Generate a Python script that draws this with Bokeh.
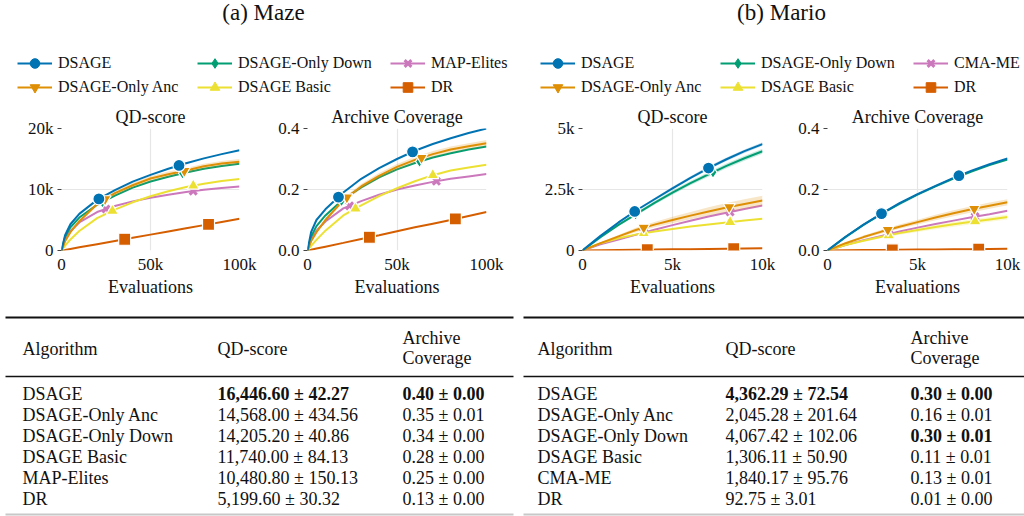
import numpy as np
from bokeh.plotting import figure
from bokeh.models import Range1d, FixedTicker, Legend, LegendItem
from bokeh.layouts import column, row
from bokeh.embed import file_html
from bokeh.resources import INLINE
from bokeh.core.properties import value

FONT = "Liberation Serif"

# ---------------- data ----------------
panel_titles = ["(a) Maze", "(b) Mario"]
names_maze = ["DSAGE", "DSAGE-Only Anc", "DSAGE-Only Down", "DSAGE Basic", "MAP-Elites", "DR"]
names_mario = ["DSAGE", "DSAGE-Only Anc", "DSAGE-Only Down", "DSAGE Basic", "CMA-ME", "DR"]
colors = ["#0173b2", "#de8f05", "#029e73", "#ece133", "#cc78bc", "#d55e00"]
markers = ["circle", "inverted_triangle", "diamond", "triangle", "x", "square"]

maze_evals = [0, 2000, 5000, 10000, 20000, 30000, 40000, 50000, 60000, 70000, 80000, 90000, 100000]
maze_qd = [
    [0, 2500, 4300, 6000, 8300, 9900, 11300, 12400, 13400, 14300, 15100, 15800, 16447],
    [0, 1500, 3000, 4800, 7600, 9400, 10700, 11800, 12500, 13100, 13800, 14250, 14568],
    [0, 2200, 3800, 5400, 7500, 9000, 10300, 11300, 12100, 12800, 13400, 13850, 14205],
    [0, 800, 1800, 3200, 5300, 6700, 7900, 8900, 9700, 10400, 10950, 11380, 11740],
    [0, 1800, 3200, 4600, 6300, 7300, 8050, 8650, 9150, 9600, 9950, 10250, 10481],
    [0, 100, 260, 520, 1040, 1560, 2080, 2600, 3120, 3640, 4160, 4680, 5200],
]
maze_cov = [
    [0, .06, .10, .135, .19, .235, .27, .30, .327, .349, .368, .385, .40],
    [0, .03, .06, .10, .165, .21, .245, .274, .297, .316, .331, .342, .352],
    [0, .045, .08, .115, .168, .207, .24, .266, .287, .305, .319, .331, .341],
    [0, .015, .035, .065, .115, .148, .178, .204, .227, .247, .262, .272, .281],
    [0, .035, .065, .095, .138, .162, .183, .2, .213, .225, .235, .243, .251],
    [0, .0025, .0063, .0126, .025, .038, .05, .063, .076, .088, .1, .113, .126],
]
maze_qd_mk = [[21000, 66000], [24500, 69000], [23000, 68000], [28600, 74000], [25000, 74000], [35500, 82600]]
maze_cov_mk = [[17300, 58700], [22000, 63700], [19000, 62600], [26800, 70000], [23500, 72000], [34600, 82600]]

mario_evals = [0, 1000, 2000, 3000, 4000, 5000, 6000, 7000, 8000, 9000, 10000]
mario_qd = [
    [0, 600, 1150, 1650, 2100, 2550, 2980, 3380, 3740, 4070, 4362],
    [0, 300, 580, 850, 1060, 1250, 1430, 1600, 1760, 1910, 2045],
    [0, 550, 1050, 1500, 1950, 2370, 2760, 3120, 3470, 3780, 4067],
    [0, 300, 500, 660, 780, 880, 980, 1070, 1150, 1230, 1306],
    [0, 250, 450, 650, 850, 1040, 1220, 1390, 1550, 1700, 1840],
    [0, 10, 20, 30, 38, 47, 56, 65, 74, 84, 93],
]
mario_cov = [
    [0, .045, .085, .121, .155, .185, .212, .238, .262, .283, .302],
    [0, .024, .044, .062, .078, .093, .108, .122, .135, .147, .158],
    [0, .044, .084, .12, .153, .183, .210, .236, .259, .280, .298],
    [0, .018, .032, .045, .057, .067, .077, .086, .094, .102, .11],
    [0, .018, .034, .048, .062, .075, .087, .098, .109, .119, .13],
    [0, .001, .0015, .002, .0025, .003, .0035, .004, .0045, .005, .0055],
]
mario_qd_mk = [[2900, 7000], [3400, 8150], [2950, 7250], [3400, 8200], [3400, 8200], [3600, 8400]]
mario_cov_mk = [[3000, 7300], [3350, 8150], [3000, 7300], [3400, 8200], [3400, 8200], [3600, 8400]]

# confidence band half-widths (series index -> list on the evals grid)
maze_qd_band = {1: [0, 100, 200, 300, 350, 400, 420, 430, 435, 435, 435, 435, 435]}
maze_cov_band = {1: [0, .002, .004, .006, .007, .008, .009, .01, .01, .01, .01, .01, .01]}
mario_qd_band = {
    0: [0, 20, 35, 45, 55, 60, 65, 68, 70, 72, 73],
    1: [0, 30, 60, 90, 110, 130, 150, 170, 185, 195, 200],
    2: [0, 30, 50, 65, 75, 85, 90, 95, 100, 102, 102],
}
mario_cov_band = {
    1: [0, .003, .005, .006, .007, .008, .009, .01, .01, .01, .01],
    3: [0, .002, .003, .004, .005, .006, .007, .008, .008, .008, .008],
}

maze_xticks, maze_xlabels = [0, 50000, 100000], ["0", "50k", "100k"]
mario_xticks, mario_xlabels = [0, 5000, 10000], ["0", "5k", "10k"]
maze_qd_yticks, maze_qd_ylabels = [0, 10000, 20000], ["0", "10k", "20k"]
mario_qd_yticks, mario_qd_ylabels = [0, 2500, 5000], ["0", "2.5k", "5k"]
cov_yticks, cov_ylabels = [0, 0.2, 0.4], ["0.0", "0.2", "0.4"]

table_header = ["Algorithm", "QD-score", "Archive", "Coverage"]
maze_tab_qd_mean = [16446.60, 14568.00, 14205.20, 11740.00, 10480.80, 5199.60]
maze_tab_qd_std = [42.27, 434.56, 40.86, 84.13, 150.13, 30.32]
maze_tab_cov_mean = [0.40, 0.35, 0.34, 0.28, 0.25, 0.13]
maze_tab_cov_std = [0.00, 0.01, 0.00, 0.00, 0.00, 0.00]
maze_tab_qd_bold = [True, False, False, False, False, False]
maze_tab_cov_bold = [True, False, False, False, False, False]
mario_tab_qd_mean = [4362.29, 2045.28, 4067.42, 1306.11, 1840.17, 92.75]
mario_tab_qd_std = [72.54, 201.64, 102.06, 50.90, 95.76, 3.01]
mario_tab_cov_mean = [0.30, 0.16, 0.30, 0.11, 0.13, 0.01]
mario_tab_cov_std = [0.00, 0.01, 0.01, 0.01, 0.01, 0.00]
mario_tab_qd_bold = [True, False, False, False, False, False]
mario_tab_cov_bold = [True, False, True, False, False, False]

W = 1024

# ---------------- header (titles + legends) ----------------
HH = 100
hdr = figure(width=W, height=HH, x_range=Range1d(0, W), y_range=Range1d(HH, 0),
             output_backend="svg", toolbar_location=None,
             min_border=0, min_border_left=0, min_border_right=0, min_border_top=0, min_border_bottom=0)
hdr.axis.visible = False
hdr.grid.visible = False
hdr.outline_line_color = None
hdr.text(x=[263, 781], y=[12, 12], text=panel_titles, text_font=value(FONT),
         text_font_size="23px", text_align="center", text_baseline="middle", text_color="#111")


def legend_items(names):
    items = []
    for i, nm in enumerate(names):
        ln = hdr.line(x=[-100, -90], y=[-100, -100], line_color=colors[i], line_width=2)
        if markers[i] == "x":
            sc = hdr.scatter(x=[-100], y=[-100], marker="x", size=10, line_color=colors[i], line_width=3)
        else:
            sc = hdr.scatter(x=[-100], y=[-100], marker=markers[i], size=10,
                             fill_color=colors[i], line_color=colors[i])
        items.append(LegendItem(label=nm, renderers=[ln, sc]))
    return items


def add_legends(items, xs):
    cols = [[items[0], items[1]], [items[2], items[3]], [items[4], items[5]]]
    for its, vx in zip(cols, xs):
        lg = Legend(items=its, location=(vx, 1), orientation="vertical",
                    padding=0, margin=0, spacing=0, glyph_width=35, glyph_height=24,
                    label_height=20, label_standoff=6,
                    label_text_font=FONT, label_text_font_size="16px", label_text_color="#111",
                    border_line_alpha=0, background_fill_alpha=0)
        hdr.add_layout(lg, "center")


add_legends(legend_items(names_maze), [17, 197, 390])
add_legends(legend_items(names_mario), [540, 720, 913])

# ---------------- subplots ----------------
PH = 205


def make_sub(title, width, bl, br, evals, ys, mks, bands, xmax, ymax, xt, xl, yt, yl):
    p = figure(width=width, height=PH, x_range=Range1d(0, xmax), y_range=Range1d(0, ymax),
               output_backend="svg", toolbar_location=None, title=title,
               min_border_left=bl, min_border_right=br, min_border_top=28, min_border_bottom=55)
    p.title.text_font = FONT
    p.title.text_font_size = "18px"
    p.title.text_font_style = "normal"
    p.title.align = "center"
    p.title.standoff = 3
    p.title.text_color = "#111"
    p.outline_line_color = None
    p.background_fill_color = "white"
    p.xaxis.ticker = FixedTicker(ticks=xt)
    p.xaxis.major_label_overrides = {t: l for t, l in zip(xt, xl)}
    p.yaxis.ticker = FixedTicker(ticks=yt)
    p.yaxis.major_label_overrides = {t: l for t, l in zip(yt, yl)}
    p.xaxis.axis_label = "Evaluations"
    p.xaxis.axis_label_text_font = FONT
    p.xaxis.axis_label_text_font_size = "18px"
    p.xaxis.axis_label_text_font_style = "normal"
    p.xaxis.axis_label_text_color = "#111"
    p.xaxis.axis_label_standoff = 0
    for ax in (p.xaxis, p.yaxis):
        ax.axis_line_color = None
        ax.major_label_text_font = FONT
        ax.major_label_text_font_size = "17px"
        ax.major_label_text_color = "#111"
        ax.minor_tick_line_color = None
        ax.major_tick_in = 0
    p.xaxis.major_tick_out = 0
    p.xaxis.major_label_standoff = 4
    p.yaxis.major_tick_out = 4
    p.yaxis.major_tick_line_color = "#444"
    p.yaxis.major_label_standoff = 4
    p.grid.grid_line_color = "#e6e6e6"
    p.grid.grid_line_width = 1.2

    ev = np.array(evals, dtype=float)
    for i in reversed(range(len(ys))):
        y = np.array(ys[i], dtype=float)
        if i in bands:
            b = np.array(bands[i], dtype=float)
            p.varea(x=ev, y1=y - b, y2=y + b, fill_color=colors[i], fill_alpha=0.22)
        p.line(ev, y, line_color=colors[i], line_width=2)
    for i in reversed(range(len(ys))):
        y = np.array(ys[i], dtype=float)
        mx = np.array(mks[i], dtype=float)
        my = np.interp(mx, ev, y)
        if markers[i] == "x":
            p.scatter(mx, my, marker="x", size=10, line_color=colors[i], line_width=3)
        else:
            p.scatter(mx, my, marker=markers[i], size=12, fill_color=colors[i],
                      line_color="white", line_width=1.2)
    return p


f1 = make_sub("QD-score", 272, 61, 33, maze_evals, maze_qd, maze_qd_mk, maze_qd_band,
              100000, 20000, maze_xticks, maze_xlabels, maze_qd_yticks, maze_qd_ylabels)
f2 = make_sub("Archive Coverage", 248, 35, 34, maze_evals, maze_cov, maze_cov_mk, maze_cov_band,
              100000, 0.4, maze_xticks, maze_xlabels, cov_yticks, cov_ylabels)
f3 = make_sub("QD-score", 270, 62, 28, mario_evals, mario_qd, mario_qd_mk, mario_qd_band,
              10000, 5000, mario_xticks, mario_xlabels, mario_qd_yticks, mario_qd_ylabels)
f4 = make_sub("Archive Coverage", 234, 37, 17, mario_evals, mario_cov, mario_cov_mk, mario_cov_band,
              10000, 0.4, mario_xticks, mario_xlabels, cov_yticks, cov_ylabels)

# ---------------- tables ----------------
TH = 211
tab = figure(width=W, height=TH, x_range=Range1d(0, W), y_range=Range1d(TH, 0),
             output_backend="svg", toolbar_location=None,
             min_border=0, min_border_left=0, min_border_right=0, min_border_top=0, min_border_bottom=0)
tab.axis.visible = False
tab.grid.visible = False
tab.outline_line_color = None

TOP, MID, BOT = 12, 71, 209
ROW0, ROWH = 88, 21.1
HDR_Y, ARC_Y, COV_Y = 43, 32, 52


def draw_table(x0, x1, cx, names, qm, qs, cm, cs, qb, cb):
    tab.segment(x0=[x0], y0=[TOP], x1=[x1], y1=[TOP], line_color="#111", line_width=2)
    tab.segment(x0=[x0], y0=[MID], x1=[x1], y1=[MID], line_color="#111", line_width=1.6)
    tab.segment(x0=[x0], y0=[BOT], x1=[x1], y1=[BOT], line_color="#c8c8c8", line_width=2)
    kw = dict(text_font=value(FONT), text_font_size="18px", text_baseline="middle",
              text_align="left", text_color="#111")
    tab.text(x=[cx[0], cx[1], cx[2], cx[2]], y=[HDR_Y, HDR_Y, ARC_Y, COV_Y], text=table_header, **kw)
    ys = [ROW0 + ROWH * i for i in range(len(names))]
    tab.text(x=[cx[0]] * len(names), y=ys, text=names, **kw)
    qtxt = [f"{m:,.2f} \u00b1 {s:.2f}" for m, s in zip(qm, qs)]
    ctxt = [f"{m:.2f} \u00b1 {s:.2f}" for m, s in zip(cm, cs)]
    for txt, bold, x in ((qtxt, qb, cx[1]), (ctxt, cb, cx[2])):
        nb = [i for i in range(len(txt)) if not bold[i]]
        bb = [i for i in range(len(txt)) if bold[i]]
        tab.text(x=[x] * len(nb), y=[ys[i] for i in nb], text=[txt[i] for i in nb], **kw)
        if bb:
            tab.text(x=[x] * len(bb), y=[ys[i] for i in bb], text=[txt[i] for i in bb],
                     text_font_style="bold", **kw)


draw_table(5, 513, [22, 217, 402], names_maze, maze_tab_qd_mean, maze_tab_qd_std,
           maze_tab_cov_mean, maze_tab_cov_std, maze_tab_qd_bold, maze_tab_cov_bold)
draw_table(523, W, [537, 725, 910], names_mario, mario_tab_qd_mean, mario_tab_qd_std,
           mario_tab_cov_mean, mario_tab_cov_std, mario_tab_qd_bold, mario_tab_cov_bold)

layout = column(hdr, row(f1, f2, f3, f4), tab)
open("out.html", "w").write(file_html(layout, INLINE))
